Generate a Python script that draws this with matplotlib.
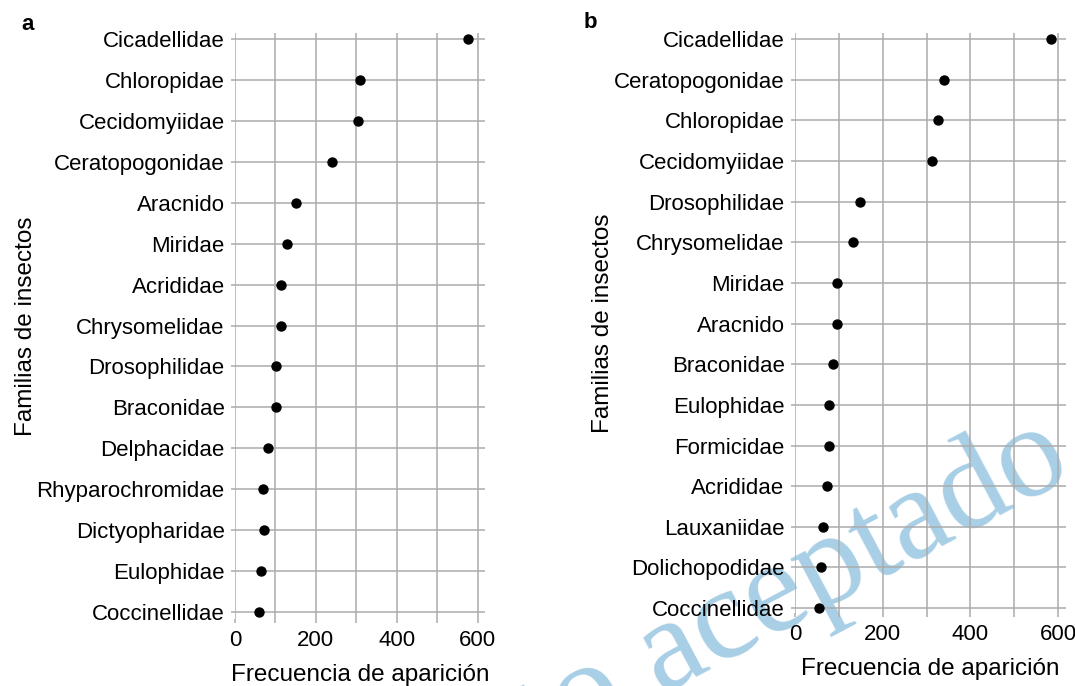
import numpy as np
from matplotlib import pyplot as plt

# Panel a
fam_a = ["Cicadellidae", "Chloropidae", "Cecidomyiidae", "Ceratopogonidae", "Aracnido",
         "Miridae", "Acrididae", "Chrysomelidae", "Drosophilidae", "Braconidae",
         "Delphacidae", "Rhyparochromidae", "Dictyopharidae", "Eulophidae", "Coccinellidae"]
freq_a = [575, 308, 305, 240, 151, 128, 114, 114, 102, 102, 81, 68, 71, 65, 60]

# Panel b
fam_b = ["Cicadellidae", "Ceratopogonidae", "Chloropidae", "Cecidomyiidae", "Drosophilidae",
         "Chrysomelidae", "Miridae", "Aracnido", "Braconidae", "Eulophidae",
         "Formicidae", "Acrididae", "Lauxaniidae", "Dolichopodidae", "Coccinellidae"]
freq_b = [585, 339, 326, 313, 149, 132, 95, 95, 86, 78, 78, 74, 64, 60, 55]

xticks = [0, 200, 400, 600]

plt.rcParams['font.family'] = ['Liberation Sans', 'DejaVu Sans']
grid_col = "#ababab"

fig = plt.figure(figsize=(10.75, 6.86), dpi=100)
ax_a = fig.add_axes([0.2186, 0.0977, 0.2326, 0.8542])
ax_b = fig.add_axes([0.7395, 0.1064, 0.2521, 0.8455])


def dotplot(ax, fams, vals, ylim):
    y = np.arange(len(fams))
    ax.set_facecolor("none")
    ax.scatter(vals, y, s=42, color="black", zorder=3, clip_on=False)
    ax.set_yticks(y)
    ax.set_yticklabels(fams, fontsize=16)
    ax.set_xticks(xticks)
    ax.set_xticks(np.arange(100, 601, 200), minor=True)
    ax.set_xticklabels([str(t) for t in xticks], fontsize=16)
    ax.set_xlim(0, 618)
    ax.set_ylim(*ylim)
    ax.grid(True, which="both", color=grid_col, linewidth=1.1)
    ax.set_axisbelow(True)
    for s in ax.spines.values():
        s.set_visible(False)
    ax.tick_params(axis="both", which="both", color=grid_col, length=3, width=1.1)
    ax.tick_params(axis="y", pad=4.5)
    ax.tick_params(axis="x", pad=5)
    ax.set_xlabel("Frecuencia de aparición", fontsize=17.5, labelpad=9)
    ax.set_ylabel("Familias de insectos", fontsize=17.5)


dotplot(ax_a, fam_a, freq_a, (14.17, -0.15))
dotplot(ax_b, fam_b, freq_b, (14.12, -0.15))

ax_a.yaxis.set_label_coords(-0.79, 0.5)
ax_b.yaxis.set_label_coords(-0.668, 0.5)

fig.text(28 / 1075, 1 - 25 / 686, "a", fontsize=16, fontweight="bold", ha="center", va="center")
fig.text(590 / 1075, 1 - 23 / 686, "b", fontsize=16, fontweight="bold", ha="center", va="center")

# watermark
fig.text(1075 / 1075, 1 - 476 / 686, "Manuscrito aceptado", fontsize=95, family="Liberation Serif",
         color="#a8cfe6", rotation=28, rotation_mode="anchor", ha="right", va="baseline", zorder=-1)

plt.savefig("out.png")
